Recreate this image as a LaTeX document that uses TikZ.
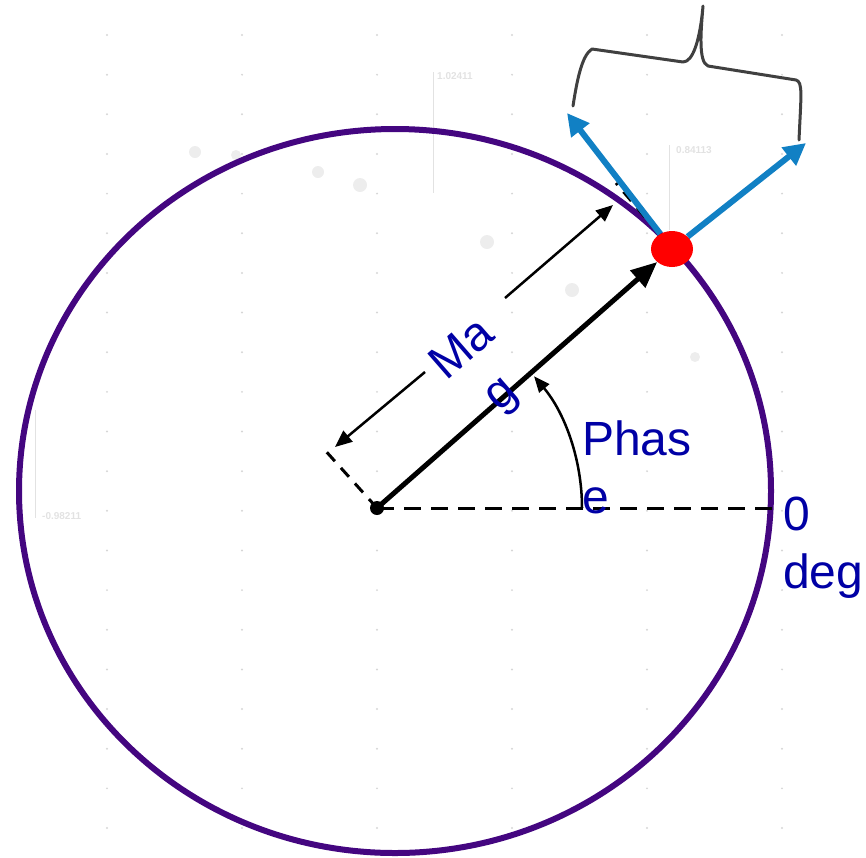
\documentclass[tikz,border=0pt]{standalone}
\usepackage{fontspec}
\setmainfont{Liberation Sans}
\usetikzlibrary{arrows.meta,shapes.geometric}
\definecolor{circcol}{RGB}{68,6,128}
\definecolor{txtblue}{RGB}{0,0,165}
\definecolor{arrblue}{RGB}{17,128,196}
\definecolor{bracecol}{RGB}{64,64,64}
\definecolor{faint}{RGB}{226,226,226}
\definecolor{faintdot}{RGB}{214,214,214}
\begin{document}
\begin{tikzpicture}[x=1pt,y=-1pt,
  lbl/.style={text=txtblue, font=\fontsize{48}{58}\selectfont, inner sep=0pt},
  faintlbl/.style={text=faint, font=\fontsize{10}{12}\selectfont\bfseries, inner sep=0pt, anchor=west},
  faintline/.style={draw=faint, line width=1pt},
  vecline/.style={line width=5pt, -{Triangle[length=26pt,width=22pt]}},
  dimarrow/.style={line width=2.5pt, -{Triangle[length=17pt,width=14pt]}},
  extline/.style={line width=3pt, dash pattern=on 12pt off 9pt},
  zeroline/.style={line width=3pt, dash pattern=on 17pt off 10pt},
  bluearrow/.style={line width=6pt, arrblue, -{Triangle[length=22pt,width=22pt]}},
  bracestyle/.style={line width=3pt, bracecol, line join=round, line cap=round},
  phasearc/.style={line width=2.5pt, -{Triangle[length=16pt,width=13pt]}}
]
\useasboundingbox (0,0) rectangle (866,857);
% faint background grid
\foreach \gx in {107,242,377,512,647,782}{
  \foreach \k in {0,...,20}{
    \fill[faintdot] (\gx,35+39.65*\k) circle[radius=1.1];
  }
}
\foreach \bx/\by/\br in {195/152/6,236/155/5,318/172/6,360/185/7,487/242/7,572/290/7,695/357/5}{
  \fill[black!7] (\bx,\by) circle[radius=\br];
}
\draw[faintline] (433,72) -- (433,193);
\draw[faintline] (669,145) -- (669,230);
\draw[faintline] (35,410) -- (35,518);
\node[faintlbl] (f1) at (437,76) {1.02411};
\node[faintlbl] (f2) at (676,150) {0.84113};
\node[faintlbl] (f3) at (42,516) {-0.98211};
% nodes
\node[circle, fill=black, inner sep=0pt, minimum size=14pt] (o) at (377,508) {};
\node[ellipse, inner sep=0pt, minimum width=42pt, minimum height=36pt] (p) at (672,249) {};
\coordinate (z) at (773,508);
\coordinate (eb) at (323,448);
\coordinate (et) at (616,183);
\coordinate (mt) at (613,205);
\coordinate (m1) at (505,298);
\coordinate (m2) at (425,372);
\coordinate (mb) at (335,447);
\coordinate (bl) at (567,113);
\coordinate (br) at (806,143);
% circle
\draw[circcol, line width=6pt] (395,491) ellipse [x radius=376, y radius=362];
% dashed zero line and extension lines
\draw[zeroline] (o.center) -- (z);
\draw[extline] (o.center) -- (eb);
\draw[extline] (p.center) -- (et);
% magnitude dimension
\draw[dimarrow] (m1) -- (mt);
\draw[dimarrow] (m2) -- (mb);
% vector
\draw[vecline] (o.center) -- (p);
% phase arc
\draw[phasearc] ([xshift=205pt]o.center) arc[start angle=0, end angle=-40, radius=205];
% labels
\node[lbl, align=center, rotate=41] (mag) at (483,373) {Ma\\g};
\node[lbl, align=left, anchor=north west] (phase) at (582,421) {Phas\\e};
\node[lbl, align=left, anchor=north west] (deg) at (783,497) {0\\deg};
% blue arrows
\draw[bluearrow] (p) -- (bl);
\draw[bluearrow] (p) -- (br);
% brace
\draw[bracestyle] (573,106) .. controls (577,80) and (582,55) .. (592,49)
  -- (683,62) .. controls (693,62) and (700,40) .. (703,6)
  .. controls (701,30) and (698,62) .. (708,66)
  -- (796,80) .. controls (803,82) and (801,95) .. (799,140);
% red dot on top
\fill[red] (p.center) ellipse [x radius=21, y radius=18];
\end{tikzpicture}
\end{document}
